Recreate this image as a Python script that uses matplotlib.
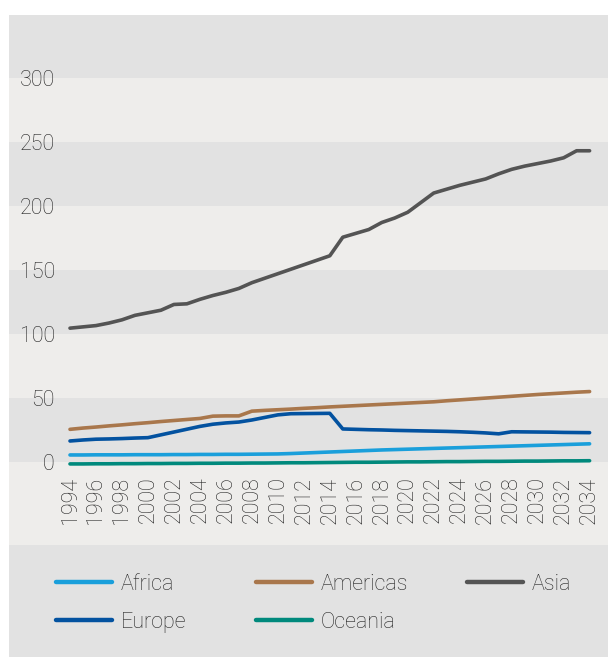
import matplotlib
matplotlib.use("Agg")
import matplotlib.pyplot as plt
from matplotlib.lines import Line2D
from matplotlib.patches import Rectangle

years = list(range(1994, 2035))

africa = [5.5, 5.5, 5.6, 5.6, 5.6, 5.7, 5.7, 5.7, 5.8, 5.8, 5.9,
          5.9, 6.0, 6.0, 6.1, 6.2, 6.3, 6.6, 7.0, 7.4, 7.8,
          8.2, 8.6, 9.0, 9.4, 9.7, 10.0, 10.3, 10.6, 10.9, 11.2,
          11.5, 11.8, 12.1, 12.4, 12.7, 13.0, 13.3, 13.6, 13.9, 14.2]

americas = [25.5, 26.5, 27.3, 28.2, 29.0, 29.9, 30.7, 31.6, 32.4, 33.2, 34.0,
            35.8, 36.0, 36.0, 39.7, 40.3, 40.8, 41.3, 41.9, 42.4, 43.0,
            43.5, 44.0, 44.5, 45.0, 45.5, 46.0, 46.5, 47.0, 47.8, 48.5,
            49.2, 49.9, 50.6, 51.3, 52.0, 52.7, 53.3, 53.9, 54.5, 55.0]

asia = [104.5, 105.5, 106.5, 108.5, 111.0, 114.5, 116.5, 118.5, 123.0, 123.5, 127.0,
        130.0, 132.5, 135.5, 140.0, 143.5, 147.0, 150.5, 154.0, 157.5, 161.0,
        175.5, 178.5, 181.5, 187.0, 190.5, 195.0, 202.5, 210.0, 213.0, 216.0,
        218.5, 221.0, 225.0, 228.5, 231.0, 233.0, 235.0, 237.5, 243.0, 243.0]

europe = [16.4, 17.2, 17.8, 18.0, 18.3, 18.7, 19.0, 21.2, 23.4, 25.6, 27.8,
          29.5, 30.5, 31.2, 32.8, 34.8, 36.8, 37.7, 37.8, 37.9, 38.0,
          25.8, 25.5, 25.2, 25.0, 24.7, 24.5, 24.3, 24.1, 23.9, 23.6,
          23.2, 22.7, 22.0, 23.6, 23.5, 23.4, 23.3, 23.1, 23.0, 22.9]

oceania = [-1.5, -1.5, -1.4, -1.4, -1.3, -1.3, -1.2, -1.2, -1.1, -1.1, -1.0,
           -1.0, -0.9, -0.9, -0.8, -0.8, -0.7, -0.6, -0.6, -0.5, -0.4,
           -0.3, -0.2, -0.2, -0.1, 0.0, 0.1, 0.1, 0.2, 0.3, 0.3,
           0.4, 0.5, 0.5, 0.6, 0.7, 0.7, 0.8, 0.9, 0.9, 1.0]

series_names = ["Africa", "Americas", "Asia", "Europe", "Oceania"]
series_values = [africa, americas, asia, europe, oceania]
series_colors = ["#1a9fdb", "#a9774c", "#545454", "#0352a0", "#00897c"]

y_ticks = [0, 50, 100, 150, 200, 250, 300]
x_ticks = list(range(1994, 2035, 2))

DARK = "#e2e2e2"
LIGHT = "#eeedeb"
TXT = "#222222"
FONT = ["Roboto", "DejaVu Sans"]
WEIGHT = "light"
FS = 15.5

W, H = 608, 657
fig = plt.figure(figsize=(W / 100, H / 100), dpi=100)
fig.patch.set_facecolor("white")

def fy(py):
    return 1 - py / H

# figure-level background bands below the plot
fig.patches.append(Rectangle((9 / W, fy(545)), (W - 9) / W, (545 - 462) / H,
                             transform=fig.transFigure, facecolor=LIGHT,
                             edgecolor="none", zorder=-10))
fig.patches.append(Rectangle((9 / W, 0), (W - 9) / W, (H - 545) / H,
                             transform=fig.transFigure, facecolor=DARK,
                             edgecolor="none", zorder=-10))

ax = fig.add_axes([9 / W, fy(462), (W - 9) / W, (462 - 15) / H])
ax.set_facecolor(DARK)
for k in range(7):
    ax.axhspan(50 * k, 50 * k + 50, color=DARK if k % 2 == 0 else LIGHT,
               lw=0, zorder=0)

pxyr = 12.99
ax.set_xlim(1994 - (70 - 9) / pxyr, 2034 + (W - 70 - 40 * pxyr) / pxyr)
ax.set_ylim(0, 349)

for name, vals, col in zip(series_names, series_values, series_colors):
    ax.plot(years, vals, color=col, lw=2.6, solid_capstyle="round",
            solid_joinstyle="round", clip_on=False, zorder=3, label=name)

for s in ax.spines.values():
    s.set_visible(False)

ax.set_yticks(y_ticks)
ax.set_yticklabels([str(v) for v in y_ticks])
ax.set_xticks(x_ticks)
ax.set_xticklabels([str(v) for v in x_ticks], rotation=90)
ax.tick_params(axis="both", length=0, colors=TXT, labelsize=FS)
ax.tick_params(axis="y", pad=-33)
ax.tick_params(axis="x", pad=10.5)
for lab in ax.get_xticklabels() + ax.get_yticklabels():
    lab.set_family(FONT)
    lab.set_fontweight(WEIGHT)
    lab.set_color(TXT)
for lab in ax.get_yticklabels():
    lab.set_horizontalalignment("right")

# legend in three fixed columns
handles = {n: Line2D([], [], color=c, lw=3.2, solid_capstyle="round")
           for n, c in zip(series_names, series_colors)}
columns = [(["Africa", "Europe"], 56), (["Americas", "Oceania"], 256), (["Asia"], 467)]
for names, xpx in columns:
    leg = fig.legend([handles[n] for n in names], names,
                     loc="upper left", bbox_to_anchor=(xpx / W, fy(574)),
                     bbox_transform=fig.transFigure, frameon=False,
                     borderpad=0, borderaxespad=0, handlelength=2.6,
                     handletextpad=0.42, labelspacing=0.78,
                     prop={"family": FONT, "size": FS, "weight": WEIGHT})
    for t in leg.get_texts():
        t.set_color(TXT)

fig.savefig("out.png", dpi=100, facecolor="white")
